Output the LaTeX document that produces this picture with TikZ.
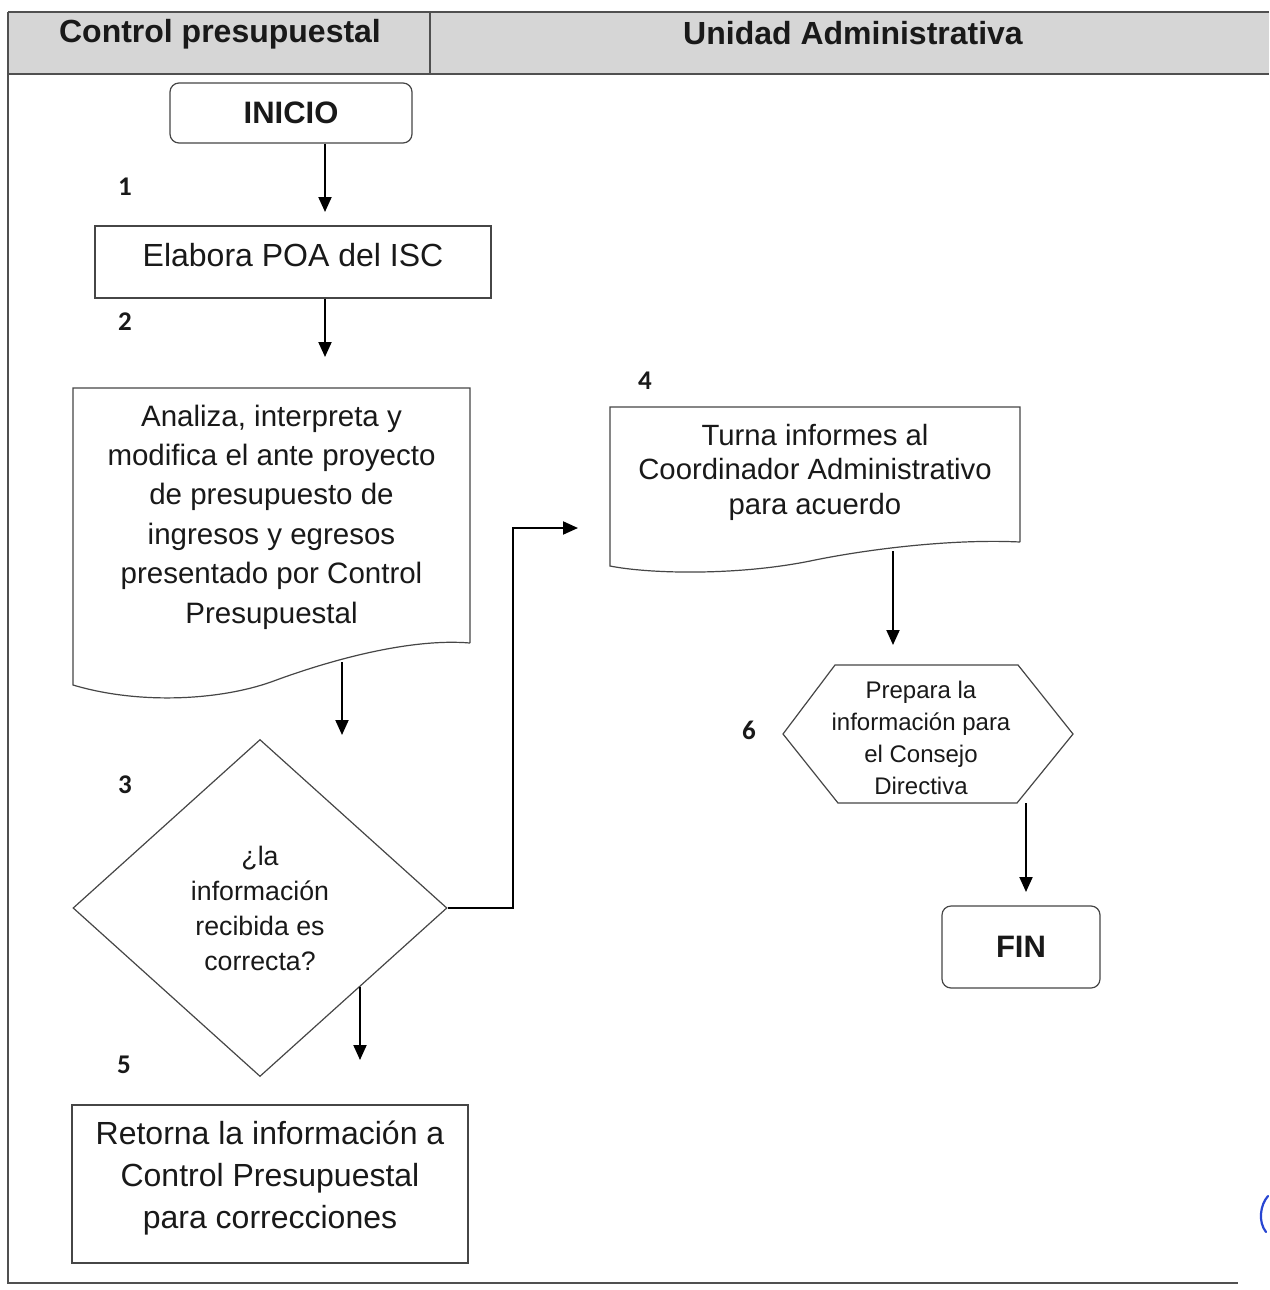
\documentclass[tikz,border=0pt]{standalone}
\usepackage{fontspec}
\setmainfont{Liberation Sans}
\newfontfamily\numfont{Carlito}
\usetikzlibrary{arrows.meta,shapes.geometric}
\definecolor{hdrgray}{RGB}{214,214,214}
\definecolor{framegray}{RGB}{80,80,80}
\definecolor{edgegray}{RGB}{70,70,70}
\definecolor{inkc}{RGB}{25,25,25}
\definecolor{penblue}{RGB}{40,70,210}

\tikzset{
  frameline/.style={draw=framegray, line width=1.6pt},
  shapeline/.style={draw=edgegray, line width=1.2pt},
  arr/.style={draw=black, line width=2pt, -{Triangle[length=15pt,width=13pt]}},
  termbox/.style={shapeline, rounded corners=9pt, font=\fontsize{31}{37}\selectfont\bfseries, text=inkc, inner sep=0pt},
  procbox/.style={shapeline, inner sep=0pt, align=center, text=inkc},
  doctext/.style={inner sep=0pt, align=center, text=inkc},
  steplabel/.style={font=\numfont\fontsize{27}{30}\selectfont\bfseries, text=inkc},
  lanehead/.style={font=\fontsize{32}{38}\selectfont\bfseries, text=inkc},
}

\begin{document}
\begin{tikzpicture}[x=1pt,y=-1pt]
\useasboundingbox (0,0) rectangle (1269,1290);
\fill[white] (0,0) rectangle (1269,1290);

% swimlane header and frame
\fill[hdrgray] (8,12) rectangle (1269,74);
\draw[frameline] (8,12) -- (1269,12);
\draw[frameline] (8,74) -- (1269,74);
\draw[frameline] (430,12) -- (430,74);
\draw[frameline] (8,12) -- (8,1283) -- (1238,1283);
\node[lanehead] (laneA) at (220,34) {Control presupuestal};
\node[lanehead] (laneB) at (853,33) {Unidad Administrativa};

% flow nodes
\node[termbox, minimum width=242pt, minimum height=60pt] (inicio) at (291,113) {INICIO};
\node[procbox, minimum width=396pt, minimum height=72pt, text depth=14pt, font=\fontsize{32}{39}\selectfont] (elabora) at (293,262) {Elabora POA del ISC};

\node[doctext, minimum width=397pt, minimum height=255pt, font=\fontsize{29.5}{39.4}\selectfont] (analiza) at (271.5,517)
  {Analiza, interpreta y\\modifica el ante proyecto\\de presupuesto de\\ingresos y egresos\\presentado por Control\\Presupuestal};
\draw[shapeline] (470,643) -- (470,388) -- (73,388) -- (73,685)
  .. controls (140,705) and (220,700) .. (271,682)
  .. controls (330,660) and (410,638) .. (470,643);

\node[shapeline, diamond, minimum width=374pt, minimum height=337pt, inner sep=0pt, align=center, text=inkc,
  font=\fontsize{26.7}{35}\selectfont] (decide) at (260,908) {¿la\\información\\recibida es\\correcta?};

\node[procbox, minimum width=396pt, minimum height=158pt, font=\fontsize{32}{42}\selectfont] (retorna) at (270,1184) {};
\node[doctext, font=\fontsize{32}{42}\selectfont] (retornatxt) at (270,1178)
  {Retorna la información a\\Control Presupuestal\\para correcciones};

\node[doctext, minimum width=410pt, minimum height=126pt, font=\fontsize{29.3}{34.5}\selectfont] (turna) at (815,472)
  {Turna informes al\\Coordinador Administrativo\\para acuerdo};
\draw[shapeline] (1020,542) -- (1020,407) -- (610,407) -- (610,566)
  .. controls (650,574) and (740,576) .. (815,560)
  .. controls (880,547) and (960,539) .. (1020,542);

\node[doctext, minimum width=183pt, minimum height=138pt, font=\fontsize{24}{32}\selectfont] (prepara) at (921,738)
  {Prepara la\\información para\\el Consejo\\Directiva};
\draw[shapeline] (835,665) -- (1018,665) -- (1073,734) -- (1017,803) -- (838,803) -- (783,734) -- cycle;

\node[termbox, minimum width=158pt, minimum height=82pt] (fin) at (1021,947) {FIN};

% step numbers
\node[steplabel] (n1) at (125,187) {1};
\node[steplabel] (n2) at (125,322) {2};
\node[steplabel] (n3) at (125,785) {3};
\node[steplabel] (n4) at (645,381) {4};
\node[steplabel] (n5) at (124,1065) {5};
\node[steplabel] (n6) at (749,730) {6};

% connector ends
\coordinate (t1) at (325,212);
\coordinate (t2) at (325,357);
\coordinate (s3) at (342,662);
\coordinate (t3) at (342,735);
\coordinate (s5) at (360,987);
\coordinate (t5) at (360,1060);
\coordinate (bend) at (513,528);
\coordinate (t4) at (578,528);
\coordinate (s6) at (893,551);
\coordinate (t6) at (893,645);
\coordinate (s7) at (1026,803);
\coordinate (t7) at (1026,892);

% connectors
\draw[arr] (inicio.south -| t1) -- (t1);
\draw[arr] (elabora.south -| t2) -- (t2);
\draw[arr] (s3) -- (t3);
\draw[arr] (s5) -- (t5);
\draw[arr] (decide.east) -| (bend) -- (t4);
\draw[arr] (s6) -- (t6);
\draw[arr] (s7) -- (t7);

% ink stroke at the right margin
\draw[penblue, line width=2.2pt, line cap=round] (1268,1196) .. controls (1260,1205) and (1258,1222) .. (1266,1232);
\end{tikzpicture}
\end{document}
